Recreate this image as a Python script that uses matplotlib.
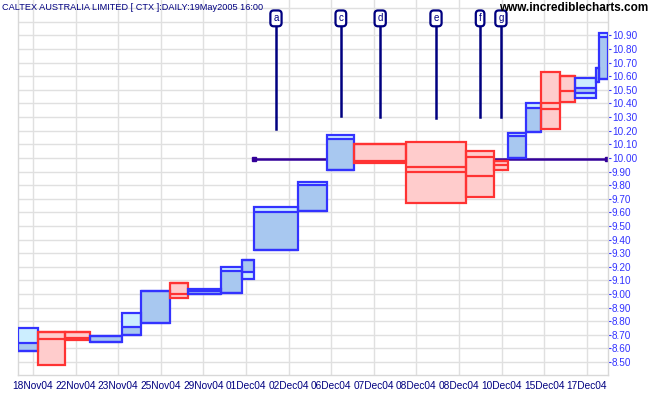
import matplotlib
matplotlib.use("Agg")
import matplotlib.pyplot as plt
from matplotlib.patches import Rectangle
import numpy as np

plt.rcParams['font.family'] = ['Liberation Sans', 'DejaVu Sans']

# candlevolume boxes: volume (box width), open, high, low, close
vol = [200, 270, 250, 314, 186, 297, 173, 337, 210, 113, 443, 292,
       268, 517, 597, 283, 133, 187, 150, 190, 150, 203, 34, 86]
opn = [8.58, 8.72, 8.72, 8.65, 8.70, 8.79, 9.08, 9.00, 9.01, 9.16, 9.32, 9.61,
       9.91, 10.10, 9.93, 10.01, 9.98, 10.00, 10.19, 10.40, 10.60, 10.48, 10.56, 10.58]
high = [8.75, 8.72, 8.72, 8.69, 8.86, 9.02, 9.08, 9.04, 9.20, 9.25, 9.64, 9.82,
        10.17, 10.10, 10.12, 10.05, 9.98, 10.18, 10.40, 10.63, 10.60, 10.59, 10.66, 10.92]
low = [8.58, 8.48, 8.66, 8.65, 8.70, 8.79, 8.97, 9.00, 9.01, 9.11, 9.32, 9.61,
       9.91, 9.96, 9.67, 9.71, 9.91, 10.00, 10.19, 10.21, 10.41, 10.44, 10.56, 10.58]
close = [8.64, 8.67, 8.68, 8.69, 8.76, 9.02, 9.00, 9.02, 9.17, 9.25, 9.60, 9.80,
         10.14, 9.98, 9.90, 9.87, 9.95, 10.16, 10.37, 10.36, 10.49, 10.51, 10.66, 10.89]
up = [True, False, False, True, True, True, False, True, True, True, True, True,
      True, False, False, False, False, True, True, False, False, True, True, True]

date_labels = ['18Nov04', '22Nov04', '23Nov04', '25Nov04', '29Nov04', '01Dec04', '02Dec04',
               '06Dec04', '07Dec04', '08Dec04', '08Dec04', '10Dec04', '15Dec04', '17Dec04']

# annotations: letter, box index, price where the marker line ends
ann_letters = ['a', 'c', 'd', 'e', 'f', 'g']
ann_box = [10, 12, 13, 14, 15, 16]
ann_end = [10.21, 10.31, 10.30, 10.29, 10.30, 10.30]

hline_price = 9.99
hline_start_box = 10

BLUE = '#3333ff'
BLUE_DARK = '#a8c8f0'
BLUE_LIGHT = '#cceeff'
RED = '#ff3333'
PINK = '#ffcccc'
NAVY = '#000080'

fig = plt.figure(figsize=(6.51, 3.95), dpi=100)
ax = fig.add_axes([18.3 / 651, 20 / 395, 589.5 / 651, 375 / 395])

left = np.concatenate([[0], np.cumsum(vol)[:-1]])
total = float(np.sum(vol))

for i in range(len(vol)):
    x0, w = left[i], vol[i]
    if up[i]:
        ax.add_patch(Rectangle((x0, low[i]), w, high[i] - low[i], facecolor=BLUE_LIGHT,
                               edgecolor='none', zorder=3))
        b0, b1 = min(opn[i], close[i]), max(opn[i], close[i])
        ax.add_patch(Rectangle((x0, b0), w, b1 - b0, facecolor=BLUE_DARK,
                               edgecolor='none', zorder=3))
        ec = BLUE
    else:
        ax.add_patch(Rectangle((x0, low[i]), w, high[i] - low[i], facecolor=PINK,
                               edgecolor='none', zorder=3))
        ec = RED
    ax.add_patch(Rectangle((x0, low[i]), w, high[i] - low[i], facecolor='none',
                           edgecolor=ec, lw=1.6, zorder=4))
    ax.hlines([opn[i], close[i]], x0, x0 + w, colors=ec, lw=1.6, zorder=4)

# horizontal line (drawn behind the boxes)
hx0 = left[hline_start_box]
ax.plot([hx0, total - 8], [hline_price, hline_price], color='#330099', lw=1.8, zorder=2)
ax.plot([hx0, total - 8], [hline_price, hline_price], 's', color='#330099', ms=3.5, zorder=2)

# annotation markers
for let, bi, end in zip(ann_letters, ann_box, ann_end):
    xc = left[bi] + vol[bi] / 2
    ax.plot([xc, xc], [end, 10.98], color=NAVY, lw=1.8, zorder=5)
    ax.text(xc, 11.025, let, color=NAVY, fontsize=7, ha='center', va='center', zorder=6,
            bbox=dict(boxstyle='round,pad=0.3,rounding_size=0.35', fc='white', ec=NAVY, lw=1.6))

ax.set_xlim(0, total)
ax.set_ylim(8.405, 11.16)

px = total / 589.5
xt = (14.7 + 42.6 * np.arange(len(date_labels))) * px
ax.set_xticks(xt)
ax.set_xticklabels(date_labels, color=NAVY, fontsize=7.3)

yt = np.round(np.arange(8.5, 10.95, 0.1), 2)
ax.set_yticks(yt)
ax.set_yticklabels(['%.2f' % v for v in yt], color=BLUE, fontsize=7.2)
ax.yaxis.tick_right()
ax.tick_params(axis='y', length=2, color=BLUE, pad=1)
ax.tick_params(axis='x', length=0, pad=4)

ax.grid(True, color='#e0e0e0', lw=1.0, zorder=0)
for v in [11.0, 11.1]:
    ax.axhline(v, color='#e0e0e0', lw=1.0, zorder=0)
ax.set_axisbelow(True)
for s in ax.spines.values():
    s.set_color('#d8d8d8')
    s.set_linewidth(1.0)
ax.spines['top'].set_visible(False)

fig.text(2 / 651, 1 - 8 / 395, 'CALTEX AUSTRALIA LIMITED [ CTX ]:DAILY:19May2005 16:00',
         color=NAVY, fontsize=6.6, ha='left', va='center')
fig.text(648 / 651, 1 - 8 / 395, 'www.incrediblecharts.com', color='black', fontsize=8.5,
         fontweight='bold', ha='right', va='center')

fig.savefig('out.png', dpi=100)
